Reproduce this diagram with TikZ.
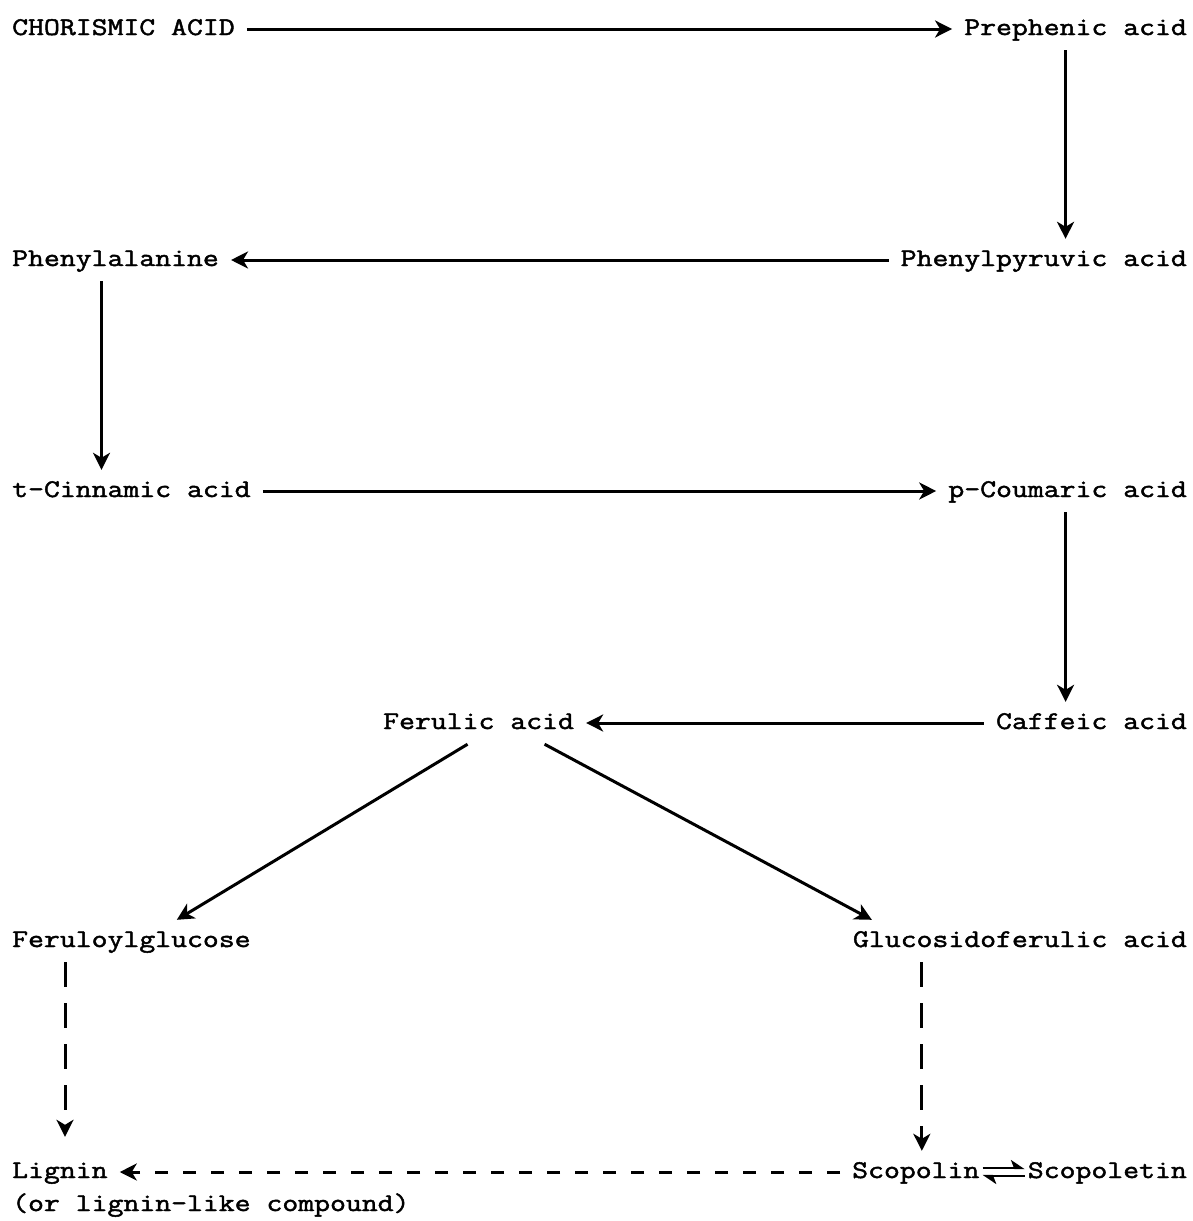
\documentclass[tikz,border=0pt]{standalone}
\usepackage{fontspec}
\setmonofont{Latin Modern Mono}[FakeStretch=1.215,FakeBold=1.8]
\usetikzlibrary{arrows.meta,positioning}

\begin{document}
\begin{tikzpicture}[x=1pt,y=-1pt,
    chem/.style={inner xsep=12pt, inner ysep=10pt, text height=17pt, text depth=5pt,
                 font=\ttfamily\fontsize{25.4}{30}\selectfont},
    arr/.style={line width=3pt, -{Stealth[length=17pt,width=17pt,inset=5pt]}},
    vdash/.style={arr, dash pattern=on 25pt off 16pt},
    hdash/.style={arr, dash pattern=on 13pt off 15pt},
    eq/.style={line width=2.8pt, -{Stealth[harpoon,length=12pt,width=16pt,inset=3pt]}}]

    \useasboundingbox (0,0) rectangle (1193,1221);

    % Add the compounds
    \node[chem, anchor=base west] (cho) at (0,35)    {CHORISMIC ACID};
    \node[chem, anchor=base east] (pre) at (1199,35) {Prephenic acid};
    \node[chem, anchor=base east] (ppy) at (1199,266) {Phenylpyruvic acid};
    \node[chem, anchor=base west] (phe) at (0,266)   {Phenylalanine};
    \node[chem, anchor=base west] (cin) at (0,497)   {t-Cinnamic acid};
    \node[chem, anchor=base east] (cou) at (1199,497) {p-Coumaric acid};
    \node[chem, anchor=base east] (caf) at (1199,729) {Caffeic acid};
    \node[chem, anchor=base west] (fer) at (371,729) {Ferulic acid};
    \node[chem, anchor=base west] (fgl) at (0,947)   {Feruloylglucose};
    \node[chem, anchor=base east] (gfa) at (1199,947) {Glucosidoferulic acid};
    \node[chem, anchor=base west] (lig) at (0,1178)  {Lignin};
    \node[chem, anchor=base west] (ligx) at (0,1211) {(or lignin-like compound)};
    \node[chem, anchor=base west] (scp) at (840,1178) {Scopolin};
    \node[chem, anchor=base east] (sct) at (1199,1178) {Scopoletin};

    % Connect the compounds with arrows
    \draw[arr] (cho.east) -- (pre.west);
    \draw[arr] ([xshift=-10pt]pre.south) -- ([xshift=-10pt]pre.south |- ppy.north);
    \draw[arr] (ppy.west) -- (phe.east);
    \draw[arr] ([xshift=-14pt]phe.south) -- ([xshift=-14pt]phe.south |- cin.north);
    \draw[arr] (cin.east) -- (cou.west);
    \draw[arr] ([xshift=-2pt]cou.south) -- ([xshift=-2pt]cou.south |- caf.north);
    \draw[arr] (caf.west) -- (fer.east);
    \draw[arr] ([xshift=-11pt]fer.south) -- ([xshift=-86pt]fgl.north east);
    \draw[arr] ([xshift=66pt]fer.south) -- ([xshift=31pt]gfa.north west);

    % Dashed steps
    \draw[vdash, shorten >=14pt] ([xshift=65pt]fgl.south west) -- ([xshift=65pt]fgl.south west |- lig.north);
    \draw[vdash] ([xshift=81pt]gfa.south west) -- ([xshift=81pt]gfa.south west |- scp.north);
    \draw[hdash] (scp.west) -- (lig.east);

    % Equilibrium
    \draw[eq] ([xshift=-9pt,yshift=4pt]scp.east) -- ([xshift=9pt,yshift=4pt]sct.west);
    \draw[eq] ([xshift=9pt,yshift=-4pt]sct.west) -- ([xshift=-9pt,yshift=-4pt]scp.east);

\end{tikzpicture}
\end{document}
